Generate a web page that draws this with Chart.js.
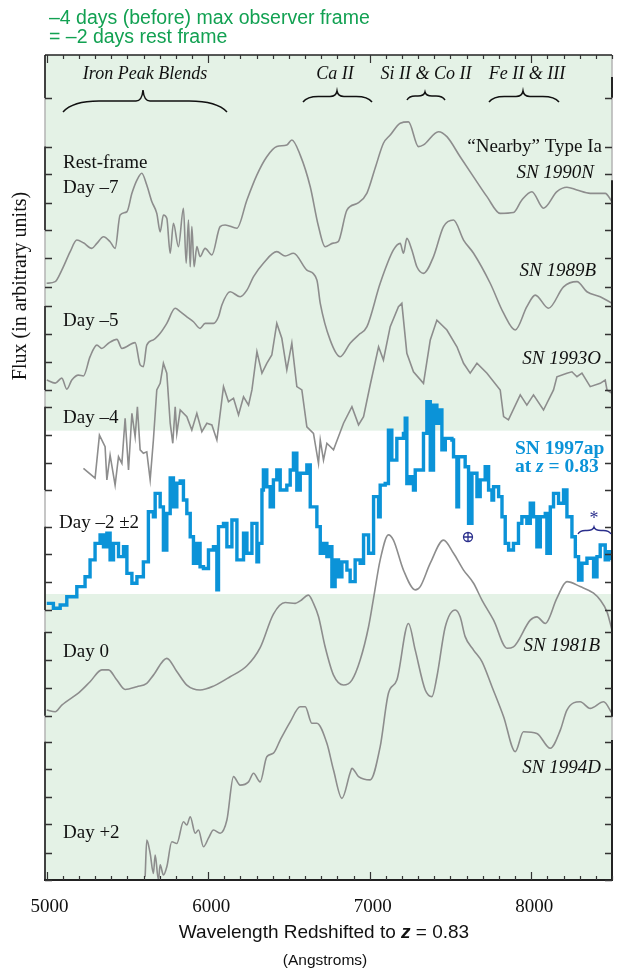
<!DOCTYPE html>
<html>
<head>
<meta charset="utf-8">
<script src="https://cdn.jsdelivr.net/npm/chart.js@4.4.1/dist/chart.umd.min.js"></script>
<style>
  html, body { margin: 0; padding: 0; background: #fff; }
</style>
</head>
<body>
<canvas id="spectra" width="624" height="973"></canvas>
<script>
// [wavelength (Å, redshifted to z = 0.83), flux (arbitrary units, offset per spectrum)]
const sn1990N = [[5000,21.70],[5053,21.76],[5094,22.18],[5146,22.85],[5187,23.27],[5228,23.17],[5280,22.97],[5311,23.15],[5352,23.39],[5393,23.21],[5424,22.97],[5455,24.18],[5497,24.30],[5528,24.97],[5559,25.45],[5589,25.70],[5620,25.27],[5651,24.67],[5682,24.24],[5703,23.57],[5723,24.18],[5744,24.06],[5765,22.79],[5785,23.88],[5816,23.03],[5847,24.43],[5864,22.43],[5878,24.00],[5889,22.30],[5899,23.76],[5913,22.30],[5930,23.03],[5950,22.67],[5981,22.97],[6023,22.73],[6074,23.76],[6105,23.82],[6178,23.70],[6240,24.73],[6302,25.64],[6363,26.30],[6425,26.67],[6487,26.73],[6518,26.91],[6570,26.36],[6632,25.21],[6681,23.82],[6724,23.03],[6774,23.16],[6805,23.21],[6859,24.36],[6929,24.62],[6983,24.98],[7034,25.89],[7085,26.79],[7127,27.09],[7189,27.52],[7240,27.57],[7302,26.67],[7333,26.73],[7426,27.21],[7478,27.03],[7560,26.30],[7643,25.57],[7726,24.85],[7808,24.24],[7890,24.27],[7942,24.73],[8004,25.03],[8076,24.43],[8159,25.03],[8221,25.19],[8283,25.09],[8365,24.97],[8458,24.97],[8500,24.67]]

const sn1989B = [[5001,18.18],[5053,18.07],[5094,18.25],[5125,17.85],[5156,18.18],[5197,18.36],[5228,18.33],[5269,19.03],[5311,19.45],[5342,19.33],[5383,19.52],[5435,19.66],[5466,19.33],[5548,19.54],[5579,18.73],[5599,18.67],[5620,19.45],[5661,19.64],[5703,19.88],[5744,20.24],[5796,20.79],[5827,20.67],[5868,20.48],[5909,20.30],[5950,20.06],[5981,20.24],[6033,20.24],[6064,20.48],[6085,20.91],[6136,21.39],[6198,21.21],[6240,21.45],[6281,21.94],[6342,22.43],[6425,22.85],[6477,22.69],[6528,22.79],[6611,22.18],[6673,21.82],[6694,20.97],[6755,19.64],[6817,19.03],[6879,19.52],[6931,19.82],[6983,20.12],[7065,21.70],[7147,22.91],[7189,23.15],[7209,22.79],[7230,23.33],[7261,22.91],[7292,22.30],[7333,22.06],[7395,22.67],[7457,23.76],[7519,24.00],[7581,23.27],[7643,22.79],[7746,21.70],[7829,20.61],[7901,20.00],[7973,20.85],[8025,21.27],[8107,20.79],[8200,21.57],[8283,21.76],[8345,21.39],[8427,21.21],[8500,20.97]]

const sn1993O = [[5228,14.97],[5300,14.61],[5327,16.18],[5362,15.76],[5373,14.55],[5393,15.45],[5424,14.36],[5445,15.39],[5466,15.15],[5486,16.79],[5507,14.91],[5528,16.97],[5548,16.12],[5562,17.21],[5579,15.64],[5599,15.52],[5620,15.57],[5641,14.55],[5661,16.00],[5682,17.82],[5703,18.06],[5723,18.79],[5744,18.43],[5765,16.61],[5781,15.88],[5796,17.21],[5806,16.24],[5827,17.09],[5868,16.85],[5899,16.36],[5930,16.97],[5961,16.30],[5992,16.61],[6023,16.55],[6054,16.00],[6095,17.94],[6126,17.39],[6157,17.52],[6188,16.91],[6219,17.57],[6250,17.27],[6271,17.82],[6302,19.21],[6333,18.43],[6363,18.79],[6394,19.09],[6425,20.24],[6456,19.70],[6487,18.55],[6518,19.52],[6549,17.94],[6580,17.82],[6611,16.48],[6652,16.24],[6683,15.15],[6694,16.00],[6714,15.27],[6735,15.88],[6776,15.64],[6838,16.61],[6890,17.21],[6931,16.55],[6962,16.85],[7003,18.00],[7055,19.39],[7085,18.91],[7127,20.12],[7178,20.85],[7199,20.97],[7230,19.15],[7271,18.48],[7333,18.06],[7375,19.64],[7416,20.36],[7478,20.00],[7540,19.39],[7581,18.79],[7622,18.43],[7664,18.79],[7726,18.43],[7808,17.82],[7829,16.85],[7859,16.73],[7932,17.64],[7973,17.27],[8014,17.64],[8076,17.09],[8138,17.82],[8159,18.30],[8221,18.43],[8252,18.48],[8283,18.30],[8314,18.43],[8365,17.94],[8427,18.06],[8458,18.18],[8469,17.82],[8500,17.70]]

const sn1997ap = [[5001,10.06],[5042,9.88],[5084,10.00],[5125,10.30],[5187,10.67],[5238,11.03],[5269,11.64],[5300,12.24],[5331,12.55],[5352,12.12],[5373,12.61],[5393,11.64],[5414,12.24],[5445,11.76],[5476,12.12],[5497,11.15],[5528,10.79],[5559,11.03],[5599,11.57],[5630,13.39],[5661,13.21],[5672,14.06],[5703,13.57],[5723,12.00],[5744,13.33],[5765,14.62],[5785,13.57],[5806,14.43],[5827,14.51],[5847,13.82],[5868,13.33],[5889,12.48],[5909,11.52],[5930,12.24],[5950,11.39],[5971,11.33],[6002,12.00],[6033,12.12],[6054,10.55],[6064,12.85],[6095,12.97],[6116,12.12],[6147,13.09],[6178,11.64],[6219,12.61],[6240,11.88],[6271,12.97],[6302,11.57],[6312,12.24],[6333,14.18],[6342,14.91],[6363,14.30],[6384,13.57],[6404,14.55],[6425,14.91],[6446,14.18],[6487,14.36],[6508,14.91],[6528,15.52],[6549,14.18],[6570,14.79],[6611,15.09],[6632,13.57],[6673,12.85],[6694,11.88],[6714,12.24],[6735,11.76],[6755,12.12],[6766,10.67],[6786,11.64],[6807,11.03],[6828,11.57],[6859,11.27],[6879,10.85],[6910,11.64],[6941,11.52],[6962,12.55],[6993,11.88],[7024,13.94],[7055,13.21],[7065,14.36],[7096,14.42],[7116,16.36],[7137,15.27],[7168,16.06],[7209,16.24],[7220,16.79],[7230,14.42],[7251,14.67],[7271,14.18],[7282,14.91],[7313,14.91],[7333,16.24],[7354,17.39],[7375,14.91],[7395,17.27],[7416,16.61],[7437,17.09],[7447,15.64],[7468,16.06],[7509,16.00],[7519,15.39],[7540,13.57],[7550,15.39],[7571,15.39],[7591,15.03],[7612,12.97],[7633,14.79],[7664,13.94],[7684,14.55],[7715,15.03],[7736,14.18],[7757,13.82],[7767,14.30],[7798,13.94],[7819,13.21],[7839,12.24],[7860,12.00],[7890,12.24],[7921,12.97],[7942,13.21],[7973,12.97],[7994,13.70],[8014,13.21],[8035,12.12],[8056,13.21],[8087,13.33],[8097,11.88],[8118,13.57],[8138,14.06],[8169,13.70],[8200,14.18],[8221,13.21],[8252,12.48],[8273,11.76],[8293,10.91],[8314,11.52],[8345,11.70],[8386,11.03],[8407,11.76],[8427,12.18],[8458,11.64],[8479,11.94],[8500,11.64]]

const sn1981B = [[5001,6.18],[5053,6.12],[5094,6.36],[5207,6.85],[5269,7.21],[5342,7.64],[5383,7.64],[5435,7.27],[5486,6.93],[5559,7.03],[5620,7.15],[5661,7.45],[5744,8.06],[5806,7.58],[5868,7.09],[5950,6.91],[6033,7.05],[6136,7.39],[6240,7.79],[6322,8.45],[6404,9.67],[6477,10.09],[6539,10.06],[6570,10.15],[6621,10.36],[6652,10.06],[6683,9.58],[6724,8.48],[6776,7.45],[6838,7.09],[6890,7.27],[6941,8.00],[6993,9.21],[7024,10.25],[7065,11.64],[7116,12.55],[7147,12.36],[7209,11.27],[7282,10.55],[7313,10.67],[7375,11.52],[7457,12.36],[7519,11.88],[7581,11.27],[7643,10.79],[7695,10.18],[7767,9.45],[7850,8.43],[7890,8.48],[7994,9.45],[8035,9.57],[8087,9.33],[8159,10.25],[8221,10.85],[8303,10.67],[8386,10.43],[8427,10.18],[8469,9.75],[8500,9.09]]

const sn1994D = [[5610,0.12],[5620,1.45],[5641,0.97],[5661,0.24],[5672,0.91],[5692,0.00],[5703,0.55],[5723,0.18],[5744,0.48],[5775,1.39],[5806,1.33],[5847,2.12],[5868,2.00],[5889,2.30],[5920,1.70],[5940,1.82],[5971,1.21],[6002,1.52],[6033,1.82],[6074,1.70],[6116,2.18],[6157,3.76],[6198,3.45],[6250,3.57],[6281,3.88],[6322,3.57],[6363,4.48],[6404,4.61],[6446,5.09],[6508,5.75],[6570,6.30],[6601,6.30],[6642,5.70],[6673,5.70],[6735,4.97],[6776,4.00],[6828,2.97],[6879,3.90],[6890,4.06],[6931,3.76],[7003,3.64],[7065,4.85],[7116,6.79],[7168,7.27],[7240,9.33],[7282,8.36],[7344,6.91],[7385,6.67],[7416,7.39],[7468,9.21],[7530,9.82],[7560,9.57],[7591,8.85],[7643,8.36],[7695,7.94],[7757,7.03],[7829,5.94],[7901,4.67],[7952,5.39],[8035,5.33],[8118,4.79],[8180,5.45],[8221,6.18],[8303,6.48],[8365,6.24],[8448,6.48],[8500,6.06]]

const xTickLabels = [5000, 6000, 7000, 8000]
// unlabelled flux ticks on both vertical edges
const fluxTicks = [28.44, 26.67, 25.66, 24.63, 23.64, 22.61, 21.57, 20.87, 19.85, 18.84, 17.82, 17.21, 16.18, 15.17, 14.18, 12.85, 11.85, 10.84, 9.82, 9.02, 8.0, 6.98, 5.97, 5.03, 4.04, 3.03, 2.04, 0.98, 0]
// dark bracket segments on the left edge, one per spectrum
const leftBrackets = [[30, 28.44], [26.67, 23.64], [20.87, 17.82], [17.21, 14.18], [12.85, 9.82], [9.02, 5.97], [5.03, 0]]
const rightBrackets = [[29.2, 28.45], [25.45, 5.94], [5.09, 0]]
// flux range observed for SN 1997ap (white band)
const whiteBand = [10.4, 16.34]

const grey = '#8d8d8d'
const blue = '#0b93d8'
const navy = '#2b2f8c'
const green = '#12a152'
const mint = 'rgb(228,242,230)'
const serif = '"Liberation Serif", "DejaVu Serif", serif'
const sans = '"Liberation Sans", Arial, sans-serif'

const toXY = arr => arr.map(d => ({x: d[0], y: d[1]}))

function greyLine(data, smooth) {
  return {
    data: toXY(data), borderColor: grey, borderWidth: 1.6, pointRadius: 0, fill: false, order: 1,
    cubicInterpolationMode: smooth ? 'monotone' : 'default', tension: 0
  }
}

const backdrop = {
  id: 'backdrop',
  beforeDraw(chart) {
    const {ctx, chartArea: a, scales: {y}} = chart
    ctx.save()
    ctx.fillStyle = '#fff'
    ctx.fillRect(0, 0, chart.width, chart.height)
    ctx.fillStyle = mint
    ctx.fillRect(a.left, a.top, a.right - a.left, a.bottom - a.top)
    const top = y.getPixelForValue(whiteBand[1]), bot = y.getPixelForValue(whiteBand[0])
    ctx.fillStyle = '#fff'
    ctx.fillRect(a.left, top, a.right - a.left, bot - top)
    ctx.restore()
  }
}

function brace(ctx, x1, x2, tipX, yTip, yEnd) {
  const yFlat = yTip + (yEnd - yTip) * 0.5
  ctx.beginPath()
  ctx.moveTo(x1, yEnd)
  ctx.quadraticCurveTo(x1 + (tipX - x1) * 0.12, yFlat, x1 + (tipX - x1) * 0.45, yFlat)
  ctx.lineTo(tipX - 7, yFlat)
  ctx.quadraticCurveTo(tipX - 1, yFlat, tipX, yTip)
  ctx.quadraticCurveTo(tipX + 1, yFlat, tipX + 7, yFlat)
  ctx.lineTo(x2 - (x2 - tipX) * 0.45, yFlat)
  ctx.quadraticCurveTo(x2 - (x2 - tipX) * 0.12, yFlat, x2, yEnd)
  ctx.stroke()
}

function pieces(ctx, parts, x, y, align) {
  // parts: [text, font, color]
  let total = 0
  parts.forEach(p => { ctx.font = p[1]; total += ctx.measureText(p[0]).width })
  let cx = align === 'center' ? x - total / 2 : (align === 'right' ? x - total : x)
  ctx.textAlign = 'left'
  parts.forEach(p => {
    ctx.font = p[1]
    ctx.fillStyle = p[2]
    ctx.fillText(p[0], cx, y)
    cx += ctx.measureText(p[0]).width
  })
}

const frame = {
  id: 'frame',
  afterDatasetsDraw(chart) {
    const {ctx, chartArea: a, scales: {x, y}} = chart
    ctx.save()
    // edges
    ctx.lineWidth = 1.5
    ctx.strokeStyle = '#b4b4b4'
    ctx.beginPath()
    ctx.moveTo(a.left, a.top); ctx.lineTo(a.left, a.bottom)
    ctx.moveTo(a.right, a.top); ctx.lineTo(a.right, a.bottom)
    ctx.stroke()
    ctx.strokeStyle = '#333'
    ctx.lineWidth = 1.8
    leftBrackets.forEach(b => {
      ctx.beginPath()
      ctx.moveTo(a.left, y.getPixelForValue(b[0]))
      ctx.lineTo(a.left, y.getPixelForValue(b[1]))
      ctx.stroke()
    })
    ctx.strokeStyle = '#111'
    rightBrackets.forEach(b => {
      ctx.beginPath()
      ctx.moveTo(a.right, y.getPixelForValue(b[0]))
      ctx.lineTo(a.right, y.getPixelForValue(b[1]))
      ctx.stroke()
    })
    ctx.strokeStyle = '#222'
    ctx.lineWidth = 1.5
    ctx.beginPath()
    ctx.moveTo(a.left, a.top); ctx.lineTo(a.right, a.top)
    ctx.stroke()
    ctx.lineWidth = 2
    ctx.beginPath()
    ctx.moveTo(a.left - 1, a.bottom); ctx.lineTo(a.right + 1, a.bottom)
    ctx.stroke()

    // wavelength ticks, top and bottom, pointing inward
    ctx.lineWidth = 1.2
    ctx.strokeStyle = '#333'
    for (let w = 5000; w <= 8500; w += 100) {
      const px = Math.round(x.getPixelForValue(w)) + 0.5
      const len = w % 1000 === 0 ? 8 : 4
      ctx.beginPath()
      ctx.moveTo(px, a.top); ctx.lineTo(px, a.top + len)
      ctx.moveTo(px, a.bottom); ctx.lineTo(px, a.bottom - len)
      ctx.stroke()
    }
    // flux ticks
    ctx.lineWidth = 1.3
    fluxTicks.forEach(v => {
      const py = Math.round(y.getPixelForValue(v)) + 0.5
      ctx.beginPath()
      ctx.moveTo(a.left, py); ctx.lineTo(a.left + 7, py)
      ctx.moveTo(a.right, py); ctx.lineTo(a.right - 7, py)
      ctx.stroke()
    })

    // tick labels and axis titles
    ctx.fillStyle = '#111'
    ctx.font = '19px ' + serif
    ctx.textAlign = 'center'
    ctx.textBaseline = 'alphabetic'
    xTickLabels.forEach(w => ctx.fillText(String(w), x.getPixelForValue(w) + 3, 912))
    pieces(ctx, [
      ['Wavelength Redshifted to ', '19px ' + sans, '#111'],
      ['z', 'bold italic 19px ' + sans, '#111'],
      [' = 0.83', '19px ' + sans, '#111']
    ], 324, 938, 'center')
    ctx.font = '15.5px ' + sans
    ctx.fillStyle = '#111'
    ctx.textAlign = 'center'
    ctx.fillText('(Angstroms)', 325, 965)
    ctx.save()
    ctx.translate(26, 286)
    ctx.rotate(-Math.PI / 2)
    ctx.font = '20px ' + serif
    ctx.fillText('Flux (in arbitrary units)', 0, 0)
    ctx.restore()

    // header
    ctx.fillStyle = green
    ctx.font = '19.5px ' + sans
    ctx.textAlign = 'left'
    ctx.fillText('\u20134 days (before) max observer frame', 49, 24)
    ctx.fillText('= \u20132 days rest frame', 49, 43)

    // line identifications
    ctx.fillStyle = '#111'
    ctx.font = 'italic 18px ' + serif
    ctx.textAlign = 'center'
    ctx.fillText('Iron Peak Blends', 145, 79)
    ctx.fillText('Ca II', 335, 79)
    ctx.fillText('Si II & Co II', 426, 79)
    ctx.fillText('Fe II & III', 527, 79)
    ctx.strokeStyle = '#111'
    ctx.lineWidth = 1.5
    brace(ctx, 63, 227, 143, 90, 112)
    brace(ctx, 303, 372, 337, 91, 102)
    brace(ctx, 407, 445, 425, 92, 100)
    brace(ctx, 489, 559, 523, 91, 102)

    // spectrum labels
    ctx.textAlign = 'left'
    ctx.font = '19px ' + serif
    ctx.fillText('Rest-frame', 63, 168)
    ctx.fillText('Day \u20137', 63, 193)
    ctx.fillText('Day \u20135', 63, 326)
    ctx.fillText('Day \u20134', 63, 423)
    ctx.fillText('Day \u20132 \u00b12', 59, 528)
    ctx.fillText('Day 0', 63, 657)
    ctx.fillText('Day +2', 63, 838)
    ctx.textAlign = 'right'
    ctx.fillText('\u201cNearby\u201d Type Ia', 602, 152)
    ctx.font = 'italic 19px ' + serif
    ctx.fillText('SN 1990N', 594, 178)
    ctx.fillText('SN 1989B', 596, 276)
    ctx.fillText('SN 1993O', 601, 364)
    ctx.fillText('SN 1981B', 600, 651)
    ctx.fillText('SN 1994D', 601, 773)

    pieces(ctx, [['SN 1997ap', 'bold 19.5px ' + serif, blue]], 515, 454, 'left')
    pieces(ctx, [
      ['at ', 'bold 19.5px ' + serif, blue],
      ['z', 'bold italic 19.5px ' + serif, blue],
      [' = 0.83', 'bold 19.5px ' + serif, blue]
    ], 515, 472, 'left')

    // telluric marker and sky-line brace
    ctx.strokeStyle = navy
    ctx.fillStyle = navy
    ctx.lineWidth = 1.3
    ctx.beginPath()
    ctx.arc(468, 537, 4.5, 0, Math.PI * 2)
    ctx.moveTo(463.5, 537); ctx.lineTo(472.5, 537)
    ctx.moveTo(468, 532.5); ctx.lineTo(468, 541.5)
    ctx.stroke()
    ctx.font = '18px ' + serif
    ctx.textAlign = 'center'
    ctx.fillText('*', 594, 524)
    ctx.lineWidth = 1.4
    brace(ctx, 578, 611, 594, 527, 534)
    ctx.restore()
  }
}

new Chart(document.getElementById('spectra'), {
  type: 'line',
  data: {
    datasets: [
      {data: toXY(sn1997ap), borderColor: blue, borderWidth: 3.4, pointRadius: 0, stepped: true, fill: false, order: 0, borderJoinStyle: 'miter'},
      greyLine(sn1990N, true),
      greyLine(sn1989B, true),
      greyLine(sn1993O, false),
      greyLine(sn1981B, true),
      greyLine(sn1994D, true)
    ]
  },
  options: {
    responsive: false,
    animation: false,
    devicePixelRatio: 1,
    layout: {padding: {left: 45, right: 12, top: 55, bottom: 93}},
    scales: {
      x: {type: 'linear', min: 4990, max: 8500, display: false},
      y: {type: 'linear', min: 0, max: 30, display: false}
    },
    plugins: {legend: {display: false}, tooltip: {enabled: false}}
  },
  plugins: [backdrop, frame]
})
</script>
</body>
</html>
